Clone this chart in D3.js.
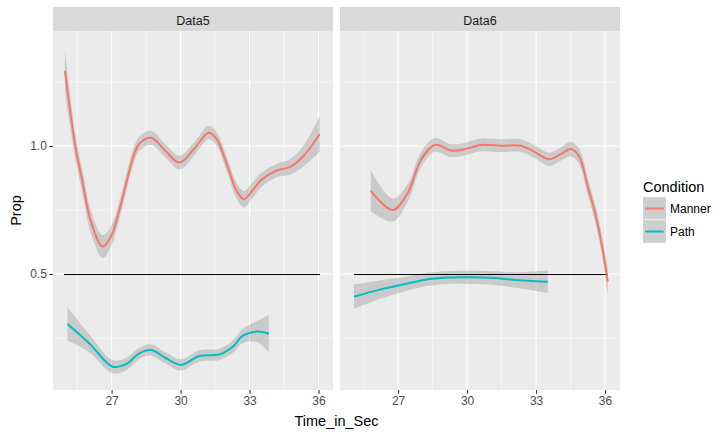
<!DOCTYPE html>
<html>
<head>
<meta charset="utf-8">
<script src="https://cdn.jsdelivr.net/npm/d3@7"></script>
<style>
  body { margin: 0; background: #fff; }
  svg text { font-family: "Liberation Sans", Arial, sans-serif; }
</style>
</head>
<body>
<svg id="chart" width="725" height="437"></svg>
<script>
// values
const panels = ['Data5', 'Data6']
const conditions = ['Manner', 'Path']
const colours = ['#F8766D', '#00BFC4']
const xTicks = [27, 30, 33, 36]
const xMinor = [25.5, 28.5, 31.5, 34.5]
const yTicks = [0.5, 1.0]
const yMinor = [0.25, 0.75, 1.25]
const refLevel = 0.5

// Data5 / Manner
const d5MannerX = [24.97, 25.42, 25.73, 26.10, 26.61, 26.97, 27.34, 27.99, 28.21, 28.72, 29.37, 29.95, 30.6, 31.22, 31.55, 32.05, 32.42, 32.75, 33.14, 33.51, 34.16, 34.74, 35.32, 36.05]
const d5MannerY = [1.293, 1.0, 0.862, 0.704, 0.607, 0.646, 0.75, 0.971, 1.01, 1.032, 0.978, 0.935, 0.99, 1.052, 1.03, 0.919, 0.828, 0.792, 0.828, 0.867, 0.904, 0.917, 0.958, 1.047]
const d5MannerSe = [0.085, 0.05, 0.045, 0.045, 0.045, 0.04, 0.035, 0.03, 0.028, 0.027, 0.026, 0.027, 0.026, 0.027, 0.027, 0.028, 0.03, 0.032, 0.03, 0.028, 0.026, 0.03, 0.04, 0.07]
// Data5 / Path
const d5PathX = [25.08, 26.03, 27.04, 27.63, 28.21, 28.72, 29.37, 30.02, 30.82, 31.69, 32.27, 32.71, 33.29, 33.84]
const d5PathY = [0.305, 0.229, 0.138, 0.148, 0.19, 0.203, 0.171, 0.145, 0.18, 0.186, 0.216, 0.259, 0.275, 0.267]
const d5PathSe = [0.065, 0.035, 0.026, 0.024, 0.022, 0.022, 0.022, 0.022, 0.022, 0.022, 0.024, 0.028, 0.04, 0.073]
// Data6 / Manner
const d6MannerX = [25.81, 26.76, 27.41, 27.99, 28.6, 29.3, 29.87, 30.6, 31.47, 32.34, 32.92, 33.58, 34.09, 34.52, 34.88, 35.25, 35.61, 35.9, 36.12]
const d6MannerY = [0.825, 0.75, 0.815, 0.945, 1.004, 0.982, 0.987, 1.004, 1.001, 1.001, 0.978, 0.948, 0.969, 0.988, 0.958, 0.841, 0.724, 0.594, 0.47]
const d6MannerSe = [0.08, 0.045, 0.035, 0.03, 0.027, 0.025, 0.025, 0.025, 0.025, 0.025, 0.025, 0.026, 0.026, 0.028, 0.03, 0.032, 0.035, 0.04, 0.05]
// Data6 / Path
const d6PathX = [25.08, 26.25, 26.97, 28.13, 29.15, 30.17, 31.18, 32.05, 33.51]
const d6PathY = [0.411, 0.44, 0.454, 0.477, 0.486, 0.487, 0.484, 0.477, 0.47]
const d6PathSe = [0.048, 0.036, 0.03, 0.026, 0.025, 0.026, 0.027, 0.03, 0.044]
// extent of the 0.5 reference line in each panel
const refX = [[24.95, 36.05], [25.07, 36.15]]

const series = [
  [[d5MannerX, d5MannerY, d5MannerSe], [d5PathX, d5PathY, d5PathSe]],
  [[d6MannerX, d6MannerY, d6MannerSe], [d6PathX, d6PathY, d6PathSe]]
]

const svg = d3.select('#chart')
const panelTop = 31, panelBottom = 390
const panelX = [[53, 333], [340, 620]]

const y = d3.scaleLinear().domain([0.047, 1.449]).range([panelBottom, panelTop])

panels.forEach(function (name, p) {
  const x0 = panelX[p][0], x1 = panelX[p][1]
  const x = d3.scaleLinear().domain([24.45, 36.63]).range(p === 0 ? [53, 333] : [339.5, 619.5])
  const g = svg.append('g')

  // strip
  g.append('rect').attr('x', x0).attr('y', 7).attr('width', x1 - x0).attr('height', panelTop - 7).attr('fill', '#D9D9D9')
  g.append('text').attr('x', (x0 + x1) / 2).attr('y', 24.5).attr('text-anchor', 'middle')
    .attr('font-size', 12.5).attr('fill', '#1A1A1A').text(name)

  // panel background and grid
  g.append('rect').attr('x', x0).attr('y', panelTop).attr('width', x1 - x0).attr('height', panelBottom - panelTop).attr('fill', '#EBEBEB')
  const clipId = 'clip' + p
  svg.append('clipPath').attr('id', clipId).append('rect')
    .attr('x', x0).attr('y', panelTop).attr('width', x1 - x0).attr('height', panelBottom - panelTop)
  const inner = g.append('g').attr('clip-path', 'url(#' + clipId + ')')

  yMinor.forEach(v => inner.append('line').attr('x1', x0).attr('x2', x1).attr('y1', y(v)).attr('y2', y(v))
    .attr('stroke', '#fff').attr('stroke-width', 0.55))
  xMinor.forEach(v => inner.append('line').attr('x1', x(v)).attr('x2', x(v)).attr('y1', panelTop).attr('y2', panelBottom)
    .attr('stroke', '#fff').attr('stroke-width', 0.55))
  yTicks.forEach(v => inner.append('line').attr('x1', x0).attr('x2', x1).attr('y1', y(v)).attr('y2', y(v))
    .attr('stroke', '#fff').attr('stroke-width', 1.1))
  xTicks.forEach(v => inner.append('line').attr('x1', x(v)).attr('x2', x(v)).attr('y1', panelTop).attr('y2', panelBottom)
    .attr('stroke', '#fff').attr('stroke-width', 1.1))

  // ribbons
  series[p].forEach(function (s) {
    const pts = s[0].map((v, i) => ({ x: v, y: s[1][i], se: s[2][i] }))
    const area = d3.area().curve(d3.curveCatmullRom.alpha(0.5))
      .x(d => x(d.x)).y0(d => y(d.y - d.se)).y1(d => y(d.y + d.se))
    inner.append('path').datum(pts).attr('d', area).attr('fill', '#999999').attr('fill-opacity', 0.4)
  })

  // reference line
  inner.append('line').attr('x1', x(refX[p][0])).attr('x2', x(refX[p][1]))
    .attr('y1', Math.round(y(refLevel)) + 0.5).attr('y2', Math.round(y(refLevel)) + 0.5)
    .attr('stroke', '#000').attr('stroke-width', 1).attr('shape-rendering', 'crispEdges')

  // smooth lines
  series[p].forEach(function (s, c) {
    const pts = s[0].map((v, i) => ({ x: v, y: s[1][i] }))
    const line = d3.line().curve(d3.curveCatmullRom.alpha(0.5)).x(d => x(d.x)).y(d => y(d.y))
    inner.append('path').datum(pts).attr('d', line).attr('fill', 'none')
      .attr('stroke', colours[c]).attr('stroke-width', 2)
  })

  // x axis
  const xAxis = d3.axisBottom(x).tickValues(xTicks).tickSize(3.7).tickPadding(2.5).tickFormat(d3.format('d'))
  const ax = g.append('g').attr('transform', 'translate(0,' + panelBottom + ')').call(xAxis)
  ax.select('.domain').remove()
  ax.selectAll('line').attr('stroke', '#333333').attr('stroke-width', 1.1)
  ax.selectAll('text').attr('font-size', 12).attr('fill', '#4D4D4D').attr('font-family', '"Liberation Sans", Arial, sans-serif')

  if (p === 0) {
    const yAxis = d3.axisLeft(y).tickValues(yTicks).tickSize(3.7).tickPadding(2.5).tickFormat(d3.format('.1f'))
    const ay = g.append('g').attr('transform', 'translate(' + x0 + ',0)').call(yAxis)
    ay.select('.domain').remove()
    ay.selectAll('line').attr('stroke', '#333333').attr('stroke-width', 1.1)
    ay.selectAll('text').attr('font-size', 12).attr('fill', '#4D4D4D').attr('font-family', '"Liberation Sans", Arial, sans-serif')
  }
})

// axis titles
svg.append('text').attr('x', 336.5).attr('y', 426).attr('text-anchor', 'middle')
  .attr('font-size', 14.5).attr('fill', '#000').text('Time_in_Sec')
svg.append('text').attr('transform', 'translate(20.5,210.5) rotate(-90)').attr('text-anchor', 'middle')
  .attr('font-size', 14.5).attr('fill', '#000').text('Prop')

// legend
const legend = svg.append('g').attr('transform', 'translate(643,0)')
legend.append('text').attr('x', 0).attr('y', 192).attr('font-size', 14.5).attr('fill', '#000').text('Condition')
conditions.forEach(function (name, i) {
  const ky = 197 + i * 23
  legend.append('rect').attr('x', 0).attr('y', ky).attr('width', 23).attr('height', 23)
    .attr('fill', '#F2F2F2').attr('stroke', '#fff').attr('stroke-width', 1)
  legend.append('rect').attr('x', 0).attr('y', ky).attr('width', 23).attr('height', 23)
    .attr('fill', '#999999').attr('fill-opacity', 0.4)
  legend.append('line').attr('x1', 2.3).attr('x2', 20.7).attr('y1', ky + 11.5).attr('y2', ky + 11.5)
    .attr('stroke', colours[i]).attr('stroke-width', 2)
  legend.append('text').attr('x', 27).attr('y', ky + 15.5).attr('font-size', 12).attr('fill', '#000').text(name)
})
</script>
</body>
</html>
